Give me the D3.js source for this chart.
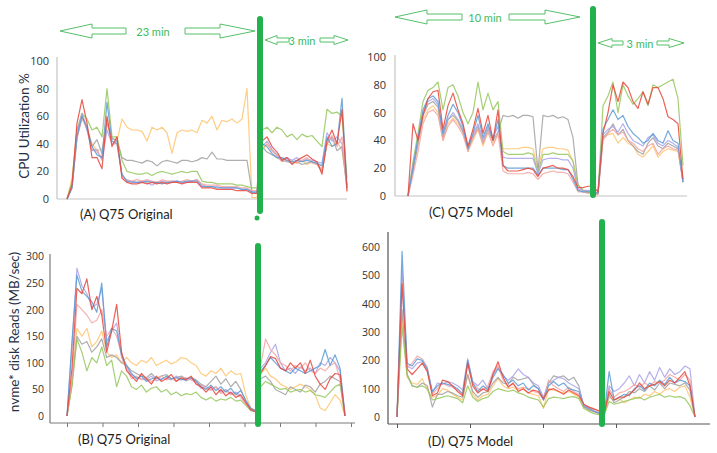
<!DOCTYPE html>
<html lang="en">
<head>
<meta charset="UTF-8">
<title>Q75 CPU and disk reads</title>
<script src="https://cdn.jsdelivr.net/npm/d3@7/dist/d3.min.js"></script>
<style>
    body { margin: 0; background: #fff; }
    svg { display: block; }
    .lbl { font-family: Lato, 'Open Sans', sans-serif; fill: #1d1d1d; }
    .tick text { font-family: 'Open Sans', sans-serif; fill: #333; }
</style>
</head>
<body>
<div id="chart"></div>
<script>
// series drawn in this order (last on top)
var seriesNames  = ['orange', 'gray', 'green', 'purple', 'pink', 'blue', 'red'];
var seriesColors = ['#ffc46e', '#a0a0a0', '#95c75d', '#a9a2e8', '#f5a3a3', '#5b9bd5', '#e8473b'];

var cpuTicks = [0, 20, 40, 60, 80, 100];
var diskOrigTicks = [0, 50, 100, 150, 200, 250, 300];
var diskModelTicks = [0, 100, 200, 300, 400, 500, 600];

// (A) Q75 Original - CPU %
var cpuOrigOrange = [0,15,50,62,52,40,35,36,55,44,42,58,52,50,50,49,42,52,50,52,48,33,48,50,49,50,48,57,55,60,50,57,56,58,55,58,80,1,1,35,40,35,32,28,30,27,26,28,25,27,26,20,40,38,42,35,10];
var cpuOrigGray   = [0,10,45,60,50,38,43,33,55,44,42,30,28,28,27,26,28,27,24,27,28,27,26,28,28,27,28,30,29,34,29,29,28,28,28,28,28,5,4,38,34,32,30,28,27,26,27,25,26,27,25,20,40,45,35,38,8];
var cpuOrigGreen  = [0,12,50,62,58,50,52,45,80,45,45,28,20,19,18,18,19,17,19,20,19,18,19,20,19,20,20,13,12,12,11,11,11,11,10,10,9,8,8,50,52,48,52,50,45,47,43,47,45,46,42,38,65,62,63,60,15];
var cpuOrigPurple = [0,8,48,62,50,35,36,28,50,40,42,17,13,13,12,13,12,10,12,13,12,13,13,12,12,13,14,10,9,9,9,8,8,8,8,7,7,5,5,38,42,36,32,29,30,28,30,27,29,28,27,26,48,42,45,40,10];
var cpuOrigPink   = [0,8,44,58,52,36,34,30,58,40,40,16,14,13,14,13,14,13,12,14,13,13,12,13,14,13,14,11,10,10,10,9,9,9,9,8,8,6,6,36,40,35,31,27,28,27,26,28,30,26,25,22,40,46,38,45,5];
var cpuOrigBlue   = [0,8,45,60,52,38,32,30,70,42,40,18,13,12,12,12,13,12,12,11,12,12,13,12,13,13,13,9,9,9,8,8,8,8,8,7,7,5,5,40,38,33,30,30,28,27,28,27,28,27,26,24,45,38,40,73,8];
var cpuOrigRed    = [0,10,55,72,55,30,30,22,60,38,45,15,12,11,11,12,11,12,11,12,11,12,12,11,12,12,12,8,8,8,7,7,7,7,6,6,6,4,4,42,45,38,34,28,30,25,28,30,32,29,27,18,42,50,40,65,6];

// (C) Q75 Model - CPU %
var cpuModelOrange = [0,18,36,55,62,65,60,40,52,56,52,46,32,40,48,36,46,38,44,34,34,34,34,35,35,34,20,34,35,35,34,34,33,25,4,3,2,2,1,42,44,45,38,42,38,36,30,28,32,36,28,32,34,33,32,10];
var cpuModelGray   = [0,18,38,58,66,68,64,42,55,58,54,46,34,42,50,38,48,40,46,58,57,58,56,58,58,57,18,58,57,58,56,57,55,42,8,4,3,3,2,42,46,52,44,48,40,36,32,30,38,42,36,34,38,36,34,10];
var cpuModelGreen  = [0,25,45,68,76,78,82,62,78,80,72,60,52,60,82,62,74,62,68,32,30,30,30,30,31,30,17,30,30,31,30,30,30,25,8,4,3,3,2,65,72,82,60,80,72,66,70,75,65,80,78,80,82,84,70,22];
var cpuModelPurple = [0,22,40,60,68,70,66,44,55,60,55,48,35,44,52,40,50,42,50,28,27,27,27,27,27,27,16,26,27,27,27,26,26,20,5,4,4,4,2,44,48,50,46,52,45,40,38,36,42,44,38,36,40,38,35,10];
var cpuModelPink   = [0,15,32,52,60,62,58,40,50,55,50,44,32,42,48,38,46,36,45,18,16,16,16,16,17,16,12,16,17,18,17,17,16,10,3,3,2,2,1,40,45,48,44,46,40,38,34,32,36,38,30,34,36,34,33,12];
var cpuModelBlue   = [0,20,42,62,70,72,68,45,58,66,60,50,34,45,58,42,52,40,55,22,20,20,20,20,20,20,15,20,20,20,20,19,19,12,4,3,3,3,2,48,55,62,55,58,50,45,42,38,40,45,40,38,47,40,38,10];
var cpuModelRed    = [0,52,40,58,70,75,76,48,65,74,62,52,36,48,63,45,58,40,62,22,18,18,18,19,20,19,14,20,21,22,20,20,19,14,6,6,7,7,3,45,60,80,68,82,78,68,63,75,66,78,78,70,57,55,52,12];

// (B) Q75 Original - nvme reads MB/sec
var diskOrigOrange = [0,60,165,150,165,130,140,160,120,110,115,100,110,100,95,105,100,110,95,100,105,98,102,110,108,100,95,80,75,85,80,90,75,85,78,80,40,15,10,80,90,75,70,60,55,50,55,60,55,50,40,15,10,25,40,30,0];
var diskOrigGray   = [0,60,150,135,140,120,130,145,110,115,110,100,95,85,80,75,72,80,70,75,78,70,72,75,70,72,68,60,55,65,75,60,70,55,65,50,28,12,8,70,75,65,50,45,40,55,50,45,58,55,45,60,65,75,70,65,0];
var diskOrigGreen  = [0,55,145,120,85,110,100,130,95,105,55,85,75,55,50,58,45,52,55,45,50,40,45,38,42,40,45,35,30,35,28,32,30,35,28,30,20,10,8,55,65,60,55,50,52,45,48,50,45,48,40,38,35,45,55,60,0];
var diskOrigPurple = [0,130,278,245,230,205,210,240,140,160,175,110,90,78,72,70,68,75,66,70,72,68,75,70,66,70,65,52,55,50,55,45,50,42,45,38,28,12,8,90,100,120,135,100,85,90,80,92,85,90,80,100,95,110,100,85,5];
var diskOrigPink   = [0,70,210,200,190,175,180,200,150,165,150,115,90,70,75,68,72,65,70,75,68,70,66,70,72,68,62,58,52,48,55,42,48,40,42,35,22,14,10,95,145,125,115,100,95,85,95,90,100,85,80,90,85,95,100,70,2];
var diskOrigBlue   = [0,140,265,235,225,215,195,250,130,165,160,115,95,80,70,75,65,70,72,68,75,70,72,68,70,72,66,55,50,58,48,55,45,52,40,48,30,15,10,85,95,110,100,90,85,80,90,85,80,85,90,95,125,95,115,90,0];
var diskOrigRed    = [0,90,240,230,258,200,225,190,120,160,210,120,85,75,65,80,70,60,75,65,70,78,65,72,68,75,60,55,45,55,40,50,38,45,35,40,25,12,8,80,95,112,108,90,85,100,90,100,80,105,75,60,50,70,80,78,0];

// (D) Q75 Model - nvme reads MB/sec
var diskModelOrange = [0,350,140,120,115,135,95,70,75,100,95,80,70,60,150,80,60,75,80,110,135,110,100,105,95,100,85,80,75,30,100,95,90,85,90,80,70,35,25,18,12,6,70,60,65,50,60,70,65,80,75,90,80,95,100,90,105,110,70,0];
var diskModelGray   = [0,380,150,110,105,120,110,35,80,80,90,85,75,70,150,90,70,85,90,120,140,120,115,140,130,135,140,115,100,60,120,145,140,145,130,140,110,35,25,20,12,8,80,50,60,70,90,85,100,90,110,95,120,100,120,115,110,120,95,0];
var diskModelGreen  = [0,320,150,110,105,110,100,60,65,70,75,70,65,50,110,70,55,65,70,90,100,95,90,95,85,80,70,65,60,35,65,70,68,65,70,72,65,30,20,12,8,5,55,45,50,55,60,65,70,60,70,75,80,70,75,70,72,65,40,0];
var diskModelPurple = [0,520,180,170,190,195,165,85,120,115,125,120,110,95,205,125,110,130,100,150,175,145,130,145,170,150,140,120,110,70,120,130,140,135,120,110,100,40,30,22,15,10,110,90,100,120,145,110,150,120,160,130,175,140,170,150,160,180,170,0];
var diskModelPink   = [0,480,175,190,215,205,175,80,100,120,110,105,95,85,185,120,100,95,110,160,180,130,110,115,100,105,100,90,85,60,130,110,100,90,105,90,80,40,35,30,20,12,100,70,85,90,100,115,105,120,110,125,120,130,150,140,130,150,130,0];
var diskModelBlue   = [0,585,190,180,205,200,170,90,110,120,115,110,100,80,200,120,90,110,95,140,170,150,120,130,110,120,95,110,100,60,110,125,110,120,100,95,90,40,30,20,15,8,160,60,70,80,75,100,110,95,120,110,130,115,140,120,130,125,110,0];
var diskModelRed    = [0,470,170,150,170,190,160,75,85,130,125,110,90,75,190,110,85,100,90,150,195,140,105,120,90,100,85,95,90,65,95,100,90,80,95,85,75,45,35,28,22,10,90,60,70,70,80,95,120,100,110,115,125,110,130,120,140,160,110,0];

var panels = [
    { series: [cpuOrigOrange, cpuOrigGray, cpuOrigGreen, cpuOrigPurple, cpuOrigPink, cpuOrigBlue, cpuOrigRed],
      xRange: [67, 347], yDomain: [0, 100], yRange: [199, 61], ticks: cpuTicks, pad: 8,
      axisX: 57, axisTop: 57, axisY: 199, axisEnd: 347, axisColor: '#c4c4c4', font: 11,
      label: '(A) Q75 Original', labelX: 80, labelY: 219 },
    { series: [cpuModelOrange, cpuModelGray, cpuModelGreen, cpuModelPurple, cpuModelPink, cpuModelBlue, cpuModelRed],
      xRange: [408, 683], yDomain: [0, 100], yRange: [196, 57], ticks: cpuTicks, pad: 9,
      axisX: 395, axisTop: 55, axisY: 196, axisEnd: 687, axisColor: '#c4c4c4', font: 11,
      label: '(C) Q75 Model', labelX: 429, labelY: 217 },
    { series: [diskOrigOrange, diskOrigGray, diskOrigGreen, diskOrigPurple, diskOrigPink, diskOrigBlue, diskOrigRed],
      xRange: [67, 345], yDomain: [0, 300], yRange: [416, 256.5], ticks: diskOrigTicks, pad: 6,
      axisX: 50, axisTop: 254, axisY: 423, axisEnd: 355, axisColor: '#7a7a7a', font: 10.5,
      xTicks: [67, 351, 8],
      label: '(B) Q75 Original', labelX: 78, labelY: 444 },
    { series: [diskModelOrange, diskModelGray, diskModelGreen, diskModelPurple, diskModelPink, diskModelBlue, diskModelRed],
      xRange: [397, 695], yDomain: [0, 600], yRange: [417, 247], ticks: diskModelTicks, pad: 8,
      axisX: 388, axisTop: 232, axisY: 424, axisEnd: 710, axisColor: '#555', font: 10.5,
      xTicks: [397, 616, 3],
      label: '(D) Q75 Model', labelX: 428, labelY: 446 }
];

var svg = d3.select('#chart').append('svg')
    .attr('width', 717)
    .attr('height', 453);

panels.forEach(function(p) {
    var g = svg.append('g');
    var x = d3.scaleLinear().domain([0, p.series[0].length - 1]).range(p.xRange);
    var y = d3.scaleLinear().domain(p.yDomain).range(p.yRange);

    // axis lines
    g.append('line')
        .attr('x1', p.axisX).attr('x2', p.axisX)
        .attr('y1', p.axisTop).attr('y2', p.axisY)
        .attr('stroke', p.axisColor).attr('stroke-width', 1.2);
    g.append('line')
        .attr('x1', p.axisX).attr('x2', p.axisEnd)
        .attr('y1', p.axisY).attr('y2', p.axisY)
        .attr('stroke', p.axisColor).attr('stroke-width', 1.2);

    // y tick labels
    var yAxis = g.append('g')
        .attr('transform', 'translate(' + p.axisX + ',0)')
        .call(d3.axisLeft(y).tickValues(p.ticks).tickSize(0).tickPadding(p.pad));
    yAxis.select('.domain').remove();
    yAxis.selectAll('text').style('font-size', p.font + 'px');

    // little x tick marks
    if (p.xTicks) {
        var tx = d3.scaleLinear().domain([0, p.xTicks[2]]).range([p.xTicks[0], p.xTicks[1]]);
        var xAxis = g.append('g')
            .attr('transform', 'translate(0,' + p.axisY + ')')
            .call(d3.axisBottom(tx).ticks(p.xTicks[2]).tickSize(4).tickFormat(''));
        xAxis.select('.domain').remove();
        xAxis.selectAll('line').attr('stroke', p.axisColor);
    }

    var line = d3.line()
        .x(function(d, i) { return x(i); })
        .y(function(d) { return y(d); });

    g.selectAll('path.series')
        .data(p.series)
        .join('path')
        .attr('class', 'series')
        .attr('d', line)
        .attr('fill', 'none')
        .attr('stroke', function(d, i) { return seriesColors[i]; })
        .attr('stroke-width', 1.2)
        .attr('stroke-opacity', 0.85)
        .attr('stroke-linejoin', 'round');

    svg.append('text')
        .attr('class', 'lbl')
        .attr('x', p.labelX)
        .attr('y', p.labelY)
        .style('font-size', '13px')
        .text(p.label);
});

// y axis titles
svg.append('text')
    .attr('class', 'lbl')
    .attr('transform', 'translate(29,126) rotate(-90)')
    .attr('text-anchor', 'middle')
    .style('font-size', '13.5px')
    .style('fill', '#1f2f45')
    .text('CPU Utilization %');

svg.append('text')
    .attr('class', 'lbl')
    .attr('transform', 'translate(19,332) rotate(-90)')
    .attr('text-anchor', 'middle')
    .style('font-size', '13.5px')
    .style('fill', '#1f2f45')
    .text('nvme* disk Reads  (MB/sec)');

// green separators
var bars = [
    { x: 260, y1: 16, y2: 214 },
    { x: 258, y1: 243, y2: 427 },
    { x: 593, y1: 6, y2: 198 },
    { x: 602, y1: 219, y2: 427 }
];
svg.selectAll('rect.sep')
    .data(bars)
    .join('rect')
    .attr('class', 'sep')
    .attr('x', function(d) { return d.x - 3; })
    .attr('y', function(d) { return d.y1; })
    .attr('width', 6)
    .attr('height', function(d) { return d.y2 - d.y1; })
    .attr('rx', 3)
    .attr('fill', '#23b14d');
svg.append('circle').attr('cx', 257).attr('cy', 218).attr('r', 2.5).attr('fill', '#23b14d');

// hollow block arrows: tip, neck, tail, y, head half height, body half height
function arrow(tip, neck, tail, yc, hh, bh) {
    var pts = [[tip, yc], [neck, yc - hh], [neck, yc - bh], [tail, yc - bh],
               [tail, yc + bh], [neck, yc + bh], [neck, yc + hh]];
    svg.append('polygon')
        .attr('points', pts.map(function(p) { return p.join(','); }).join(' '))
        .attr('fill', '#fff')
        .attr('stroke', '#56c06a')
        .attr('stroke-width', 1);
}
function arrowText(cx, yc, t) {
    svg.append('text')
        .attr('x', cx).attr('y', yc)
        .attr('text-anchor', 'middle')
        .attr('dominant-baseline', 'central')
        .style('font-family', "Lato, 'Open Sans', sans-serif")
        .style('font-size', '11px')
        .style('fill', '#3dba5b')
        .text(t);
}

arrow(60, 92, 126, 31, 7, 3);
arrowText(153, 31, '23 min');
arrow(255, 220, 185, 31, 7, 3);

arrow(265, 277, 289, 40, 4.5, 2);
arrowText(302, 40, '3 min');
arrow(348, 334, 320, 40, 4.5, 2);

arrow(395, 427, 462, 17, 7, 3);
arrowText(485, 17, '10 min');
arrow(580, 545, 509, 17, 7, 3);

arrow(598, 612, 623, 43, 4.5, 2);
arrowText(640, 43, '3 min');
arrow(684, 669, 657, 43, 4.5, 2);
</script>
</body>
</html>
